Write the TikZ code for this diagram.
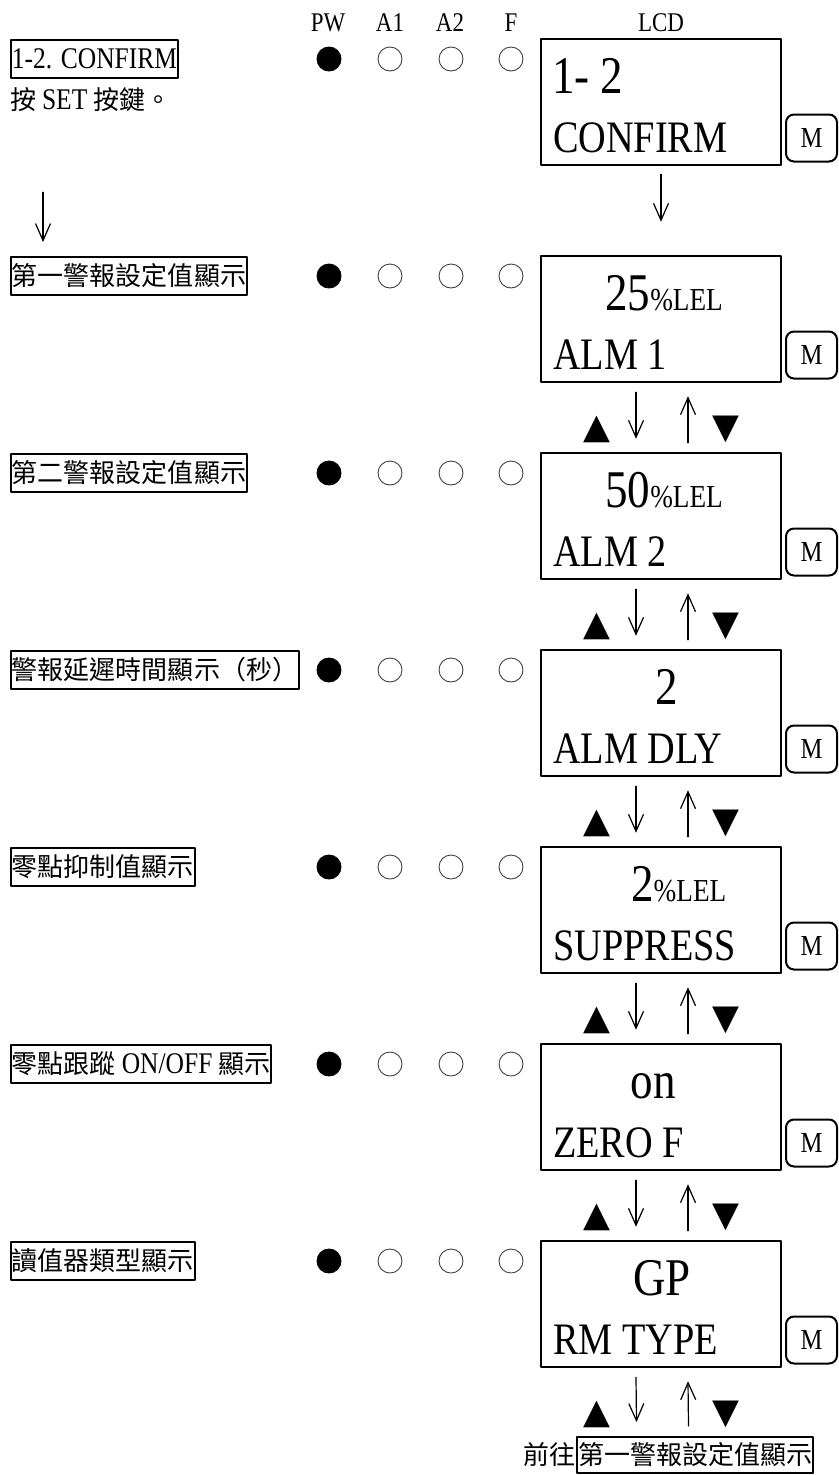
\documentclass[tikz,border=0pt]{standalone}
\usepackage{fontspec}
\setmainfont{Liberation Serif}[FakeStretch=0.85]
\newfontfamily\cjk{Noto Sans CJK TC}
\newfontfamily\symfont{DejaVu Sans}
\usetikzlibrary{arrows.meta}
\newcommand\lat[1]{{\rmfamily\fontsize{30}{32}\selectfont #1}}
\newcommand\lel{{\fontsize{32}{34}\selectfont\%LEL}}

\tikzset{
	lbl/.style={draw,line width=2pt,anchor=west,inner xsep=1pt,inner ysep=0pt,minimum height=38pt,font=\cjk\fontsize{26}{30}\selectfont},
	note/.style={inner sep=0pt,font=\cjk\fontsize{26}{30}\selectfont},
	led/.style={circle,draw=black!75,line width=0.9pt,minimum size=24pt,inner sep=0pt},
	ledon/.style={led,draw=black,fill=black},
	hdr/.style={anchor=base,inner sep=0pt,font=\fontsize{27}{30}\selectfont},
	lcd/.style={draw,line width=2.5pt,minimum width=240pt,minimum height=126pt,inner sep=0pt},
	lcdtop/.style={anchor=base west,inner sep=0pt,font=\fontsize{53}{56}\selectfont},
	lcdmid/.style={lcdtop,anchor=base},
	lcdlow/.style={anchor=base west,inner sep=0pt,font=\fontsize{45}{48}\selectfont},
	mkey/.style={draw,line width=2pt,rounded corners=8pt,minimum width=51pt,minimum height=47pt,inner sep=0pt,font=\fontsize{29}{30}\selectfont},
	tri/.style={inner sep=0pt,font=\symfont\fontsize{35}{36}\selectfont},
	arr/.style={line width=1.2pt,-{Straight Barb[length=17pt,width=15pt]}}
}

\begin{document}
\begin{tikzpicture}[line cap=round,line join=round,x=1pt,y=-1pt]
	\useasboundingbox (0,0) rectangle (838,1475);
	% header
	\node[hdr] (hpw) at (328,31) {PW};
	\node[hdr] (ha1) at (390,31) {A1};
	\node[hdr] (ha2) at (450,31) {A2};
	\node[hdr] (hf) at (511,31) {F};
	\node[hdr] (hlcd) at (661,31) {LCD};
	% 1-2 confirm
	\node[lbl,font=\fontsize{30}{32}\selectfont] (lab1) at (10,59) {1-2. CONFIRM};
	\node[note,anchor=west] (note1) at (10,100) {按 \lat{SET} 按鍵。};
	\node[ledon] (pw1) at (329,59) {}; \node[led] (aa1) at (390,59) {}; \node[led] (ab1) at (451,59) {}; \node[led] (f1) at (511,59) {};
	\node[lcd] (lcd1) at (661,102) {};
	\node[lcdtop] (val1) at (552,93) {1- 2};
	\node[lcdlow] (txt1) at (553,152) {CONFIRM};
	\node[mkey] (m1) at (811.5,138) {M};
	% alarm 1
	\node[lbl] (lab2) at (10,276) {第一警報設定值顯示};
	\node[ledon] (pw2) at (329,276) {}; \node[led] (aa2) at (390,276) {}; \node[led] (ab2) at (451,276) {}; \node[led] (f2) at (511,276) {};
	\node[lcd] (lcd2) at (661,319) {};
	\node[lcdtop] (val2) at (605,310) {25\lel};
	\node[lcdlow] (txt2) at (553,369) {ALM 1};
	\node[mkey] (m2) at (811.5,355) {M};
	% alarm 2
	\node[lbl] (lab3) at (10,473) {第二警報設定值顯示};
	\node[ledon] (pw3) at (329,473) {}; \node[led] (aa3) at (390,473) {}; \node[led] (ab3) at (451,473) {}; \node[led] (f3) at (511,473) {};
	\node[lcd] (lcd3) at (661,516) {};
	\node[lcdtop] (val3) at (605,507) {50\lel};
	\node[lcdlow] (txt3) at (553,566) {ALM 2};
	\node[mkey] (m3) at (811.5,552) {M};
	% delay
	\node[lbl] (lab4) at (10,670) {警報延遲時間顯示（秒）};
	\node[ledon] (pw4) at (329,670) {}; \node[led] (aa4) at (390,670) {}; \node[led] (ab4) at (451,670) {}; \node[led] (f4) at (511,670) {};
	\node[lcd] (lcd4) at (661,713) {};
	\node[lcdmid] (val4) at (667,704) {2};
	\node[lcdlow] (txt4) at (553,763) {ALM DLY};
	\node[mkey] (m4) at (811.5,749) {M};
	% suppress
	\node[lbl] (lab5) at (10,867) {零點抑制值顯示};
	\node[ledon] (pw5) at (329,867) {}; \node[led] (aa5) at (390,867) {}; \node[led] (ab5) at (451,867) {}; \node[led] (f5) at (511,867) {};
	\node[lcd] (lcd5) at (661,910) {};
	\node[lcdtop] (val5) at (631,901) {2\lel};
	\node[lcdlow] (txt5) at (553,960) {SUPPRESS};
	\node[mkey] (m5) at (811.5,946) {M};
	% zero follow
	\node[lbl] (lab6) at (10,1064) {零點跟蹤 \lat{ON/OFF} 顯示};
	\node[ledon] (pw6) at (329,1064) {}; \node[led] (aa6) at (390,1064) {}; \node[led] (ab6) at (451,1064) {}; \node[led] (f6) at (511,1064) {};
	\node[lcd] (lcd6) at (661,1107) {};
	\node[lcdmid] (val6) at (653,1098) {on};
	\node[lcdlow] (txt6) at (553,1157) {ZERO F};
	\node[mkey] (m6) at (811.5,1143) {M};
	% rm type
	\node[lbl] (lab7) at (10,1261) {讀值器類型顯示};
	\node[ledon] (pw7) at (329,1261) {}; \node[led] (aa7) at (390,1261) {}; \node[led] (ab7) at (451,1261) {}; \node[led] (f7) at (511,1261) {};
	\node[lcd] (lcd7) at (661,1304) {};
	\node[lcdmid] (val7) at (662,1295) {GP};
	\node[lcdlow] (txt7) at (553,1354) {RM TYPE};
	\node[mkey] (m7) at (811.5,1340) {M};
	% back to alarm 1
	\node[lbl,minimum height=36pt] (goto) at (576,1455) {第一警報設定值顯示};
	\node[note,anchor=east] (gopre) at (goto.west) {前往};
	% arrows
	\draw[arr] ([xshift=33pt,yshift=-80pt]note1.south west) -- ([xshift=33pt,yshift=14pt]lab2.north west);
	\draw[arr] ([yshift=-8pt]lcd1.south) -- ([yshift=33pt]lcd2.north);
	\draw[arr] ([xshift=-25pt,yshift=-9pt]lcd2.south) -- ([xshift=-25pt,yshift=13pt]lcd3.north);
	\draw[arr] ([xshift=27pt,yshift=9pt]lcd3.north) -- ([xshift=27pt,yshift=-13pt]lcd2.south);
	\node[tri] (up2) at ([xshift=-64pt,yshift=-46pt]lcd2.south) {▲};
	\node[tri] (dn2) at ([xshift=65pt,yshift=-46pt]lcd2.south) {▼};
	\draw[arr] ([xshift=-25pt,yshift=-9pt]lcd3.south) -- ([xshift=-25pt,yshift=13pt]lcd4.north);
	\draw[arr] ([xshift=27pt,yshift=9pt]lcd4.north) -- ([xshift=27pt,yshift=-13pt]lcd3.south);
	\node[tri] (up3) at ([xshift=-64pt,yshift=-46pt]lcd3.south) {▲};
	\node[tri] (dn3) at ([xshift=65pt,yshift=-46pt]lcd3.south) {▼};
	\draw[arr] ([xshift=-25pt,yshift=-9pt]lcd4.south) -- ([xshift=-25pt,yshift=13pt]lcd5.north);
	\draw[arr] ([xshift=27pt,yshift=9pt]lcd5.north) -- ([xshift=27pt,yshift=-13pt]lcd4.south);
	\node[tri] (up4) at ([xshift=-64pt,yshift=-46pt]lcd4.south) {▲};
	\node[tri] (dn4) at ([xshift=65pt,yshift=-46pt]lcd4.south) {▼};
	\draw[arr] ([xshift=-25pt,yshift=-9pt]lcd5.south) -- ([xshift=-25pt,yshift=13pt]lcd6.north);
	\draw[arr] ([xshift=27pt,yshift=9pt]lcd6.north) -- ([xshift=27pt,yshift=-13pt]lcd5.south);
	\node[tri] (up5) at ([xshift=-64pt,yshift=-46pt]lcd5.south) {▲};
	\node[tri] (dn5) at ([xshift=65pt,yshift=-46pt]lcd5.south) {▼};
	\draw[arr] ([xshift=-25pt,yshift=-9pt]lcd6.south) -- ([xshift=-25pt,yshift=13pt]lcd7.north);
	\draw[arr] ([xshift=27pt,yshift=9pt]lcd7.north) -- ([xshift=27pt,yshift=-13pt]lcd6.south);
	\node[tri] (up6) at ([xshift=-64pt,yshift=-46pt]lcd6.south) {▲};
	\node[tri] (dn6) at ([xshift=65pt,yshift=-46pt]lcd6.south) {▼};
	\draw[arr] ([xshift=-25pt,yshift=-9pt]lcd7.south) -- ([xshift=-58.5pt,yshift=14pt]goto.north);
	\draw[arr] ([xshift=-6.5pt,yshift=10pt]goto.north) -- ([xshift=27pt,yshift=-13pt]lcd7.south);
	\node[tri] (up7) at ([xshift=-64pt,yshift=-46pt]lcd7.south) {▲};
	\node[tri] (dn7) at ([xshift=65pt,yshift=-46pt]lcd7.south) {▼};
\end{tikzpicture}
\end{document}
